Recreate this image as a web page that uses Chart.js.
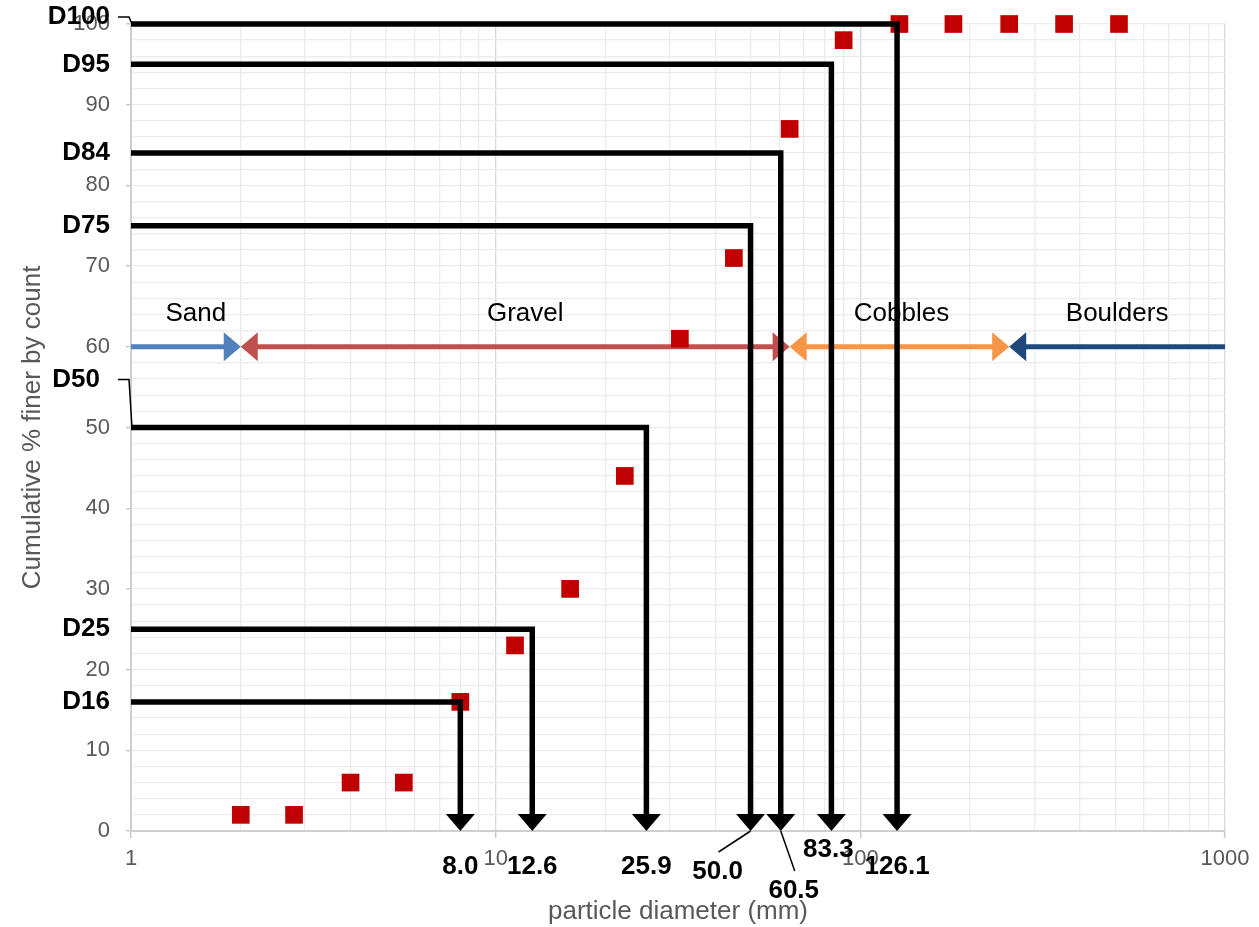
<!DOCTYPE html>
<html>
<head>
<meta charset="utf-8">
<script src="https://cdn.jsdelivr.net/npm/chart.js@4"></script>
<style>
  html, body { margin: 0; padding: 0; background: #ffffff; }
  #wrap { width: 1259px; height: 927px; position: relative; }
</style>
</head>
<body>
<div id="wrap"><canvas id="c" width="1259" height="927"></canvas></div>
<script>
// ---------------- data ----------------
const sieveSizes   = [2, 2.8, 4, 5.6, 8, 11.3, 16, 22.6, 32, 45, 64, 90, 128, 180, 256, 362, 512];
const percentFiner = [2, 2, 6, 6, 16, 23, 30, 44, 61, 71, 87, 98, 100, 100, 100, 100, 100];

const dNames    = ['D16', 'D25', 'D50', 'D75', 'D84', 'D95', 'D100'];
const dPercents = [16, 25, 50, 75, 84, 95, 100];
const dSizes    = [8.0, 12.6, 25.9, 50.0, 60.5, 83.3, 126.1];

const classNames     = ['Sand', 'Gravel', 'Cobbles', 'Boulders'];
const classFrom      = [1, 2, 64, 256];
const classTo        = [2, 64, 256, 1000];
const classLevel     = 60;
const classArrowFrom = [false, true, true, true];
const classArrowTo   = [true, true, true, false];
const classColors    = ['#4F81BD', '#C0504D', '#F79646', '#1F497D'];

const xMajorTicks  = [1, 10, 100, 1000];
const xTickLabels  = ['1', '10', '100', '1000'];
const yMin = 0, yMax = 100, yMinorStep = 2, yMajorStep = 10;

// ---------------- style / layout ----------------
const FONT = "'Liberation Sans', Arial, Helvetica, sans-serif";
const GRAY_TEXT = '#595959';
const ARROW_LEN = 17, ARROW_HALF = 14.5, SHAFT_CUT = 13;

// label nudges (layout only)
const dLabelNudge = { D50: { dy: -48, gap: 31, leader: true }, D100: { dy: -7, gap: 21, leader: true } };
const valueLabelNudge = {
  D75: { dx: -33, dy: 5, leader: true },
  D84: { dx: 13, dy: 24, leader: true },
  D95: { dx: -3, dy: -17 }
};
const classLabelNudge = { Sand: 10, Gravel: 10, Cobbles: 2, Boulders: 0 };

// ---------------- datasets ----------------
const datasets = [];
dNames.forEach((name, i) => {
  datasets.push({
    label: name,
    data: [
      { x: xMajorTicks[0], y: dPercents[i] },
      { x: dSizes[i], y: dPercents[i] },
      { x: dSizes[i], y: yMin }
    ],
    showLine: true,
    borderColor: '#000000',
    backgroundColor: '#000000',
    borderWidth: 5.5,
    borderJoinStyle: 'miter',
    borderCapStyle: 'butt',
    pointRadius: 0,
    pointHoverRadius: 0,
    clip: false,
    order: 1,
    arrows: { start: false, end: true }
  });
});
datasets.push({
  label: 'Cumulative % finer by count',
  data: sieveSizes.map((s, i) => ({ x: s, y: percentFiner[i] })),
  showLine: false,
  pointStyle: 'rect',
  pointRadius: 12.5,
  pointHoverRadius: 12.5,
  backgroundColor: '#C00000',
  borderColor: '#C00000',
  borderWidth: 0,
  clip: false,
  order: 2
});
classNames.forEach((name, i) => {
  datasets.push({
    label: name,
    data: [{ x: classFrom[i], y: classLevel }, { x: classTo[i], y: classLevel }],
    showLine: true,
    borderColor: classColors[i],
    backgroundColor: classColors[i],
    borderWidth: 5,
    borderCapStyle: 'butt',
    pointRadius: 0,
    pointHoverRadius: 0,
    clip: false,
    order: 3,
    arrows: { start: classArrowFrom[i], end: classArrowTo[i] }
  });
});

// x grid positions (1..9 x 10^k)
function logGridTicks() {
  const t = [];
  for (let k = 0; k < 3; k++) for (let m = 1; m < 10; m++) t.push({ value: m * Math.pow(10, k) });
  t.push({ value: 1000 });
  return t;
}

// ---------------- plugins ----------------
function shortenPoint(p, prev, cut) {
  const dx = p.x - prev.x, dy = p.y - prev.y, L = Math.hypot(dx, dy);
  if (!L) return;
  p.x -= dx / L * cut;
  p.y -= dy / L * cut;
}
function drawTriangle(ctx, tip, from, color) {
  const dx = tip.x - from.x, dy = tip.y - from.y, L = Math.hypot(dx, dy);
  const ux = dx / L, uy = dy / L;
  const bx = tip.x - ux * ARROW_LEN, by = tip.y - uy * ARROW_LEN;
  ctx.beginPath();
  ctx.moveTo(tip.x, tip.y);
  ctx.lineTo(bx - uy * ARROW_HALF, by + ux * ARROW_HALF);
  ctx.lineTo(bx + uy * ARROW_HALF, by - ux * ARROW_HALF);
  ctx.closePath();
  ctx.fillStyle = color;
  ctx.fill();
}

const arrowPlugin = {
  id: 'arrowHeads',
  afterDatasetsUpdate(chart) {
    chart.data.datasets.forEach((ds, i) => {
      if (!ds.arrows) return;
      const pts = chart.getDatasetMeta(i).data;
      const n = pts.length;
      if (ds.arrows.end) shortenPoint(pts[n - 1], pts[n - 2], SHAFT_CUT);
      if (ds.arrows.start) shortenPoint(pts[0], pts[1], SHAFT_CUT);
    });
  },
  afterDatasetDraw(chart, args) {
    const ds = chart.data.datasets[args.index];
    if (!ds.arrows) return;
    const xs = chart.scales.x, ys = chart.scales.y;
    const px = d => ({ x: xs.getPixelForValue(d.x), y: ys.getPixelForValue(d.y) });
    const ctx = chart.ctx;
    const n = ds.data.length;
    ctx.save();
    if (ds.arrows.end) drawTriangle(ctx, px(ds.data[n - 1]), px(ds.data[n - 2]), ds.borderColor);
    if (ds.arrows.start) drawTriangle(ctx, px(ds.data[0]), px(ds.data[1]), ds.borderColor);
    ctx.restore();
  }
};

const labelPlugin = {
  id: 'annotLabels',
  afterDraw(chart) {
    const ctx = chart.ctx;
    const xs = chart.scales.x, ys = chart.scales.y;
    const area = chart.chartArea;
    ctx.save();

    // D-labels at the left
    ctx.font = 'bold 26px ' + FONT;
    ctx.fillStyle = '#000000';
    ctx.textAlign = 'right';
    ctx.textBaseline = 'middle';
    dNames.forEach((name, i) => {
      const nd = dLabelNudge[name] || { dy: 0, gap: 21, leader: false };
      const y = ys.getPixelForValue(dPercents[i]);
      const ly = y + nd.dy;
      const rx = area.left - nd.gap;
      ctx.fillText(name, rx, ly);
      if (nd.leader) {
        ctx.beginPath();
        ctx.lineWidth = 1.5;
        ctx.strokeStyle = '#000000';
        ctx.moveTo(area.left - 13, ly);
        ctx.lineTo(area.left - 2, ly);
        ctx.lineTo(area.left + 1, y);
        ctx.stroke();
      }
    });

    // value labels at the bottom
    ctx.textAlign = 'center';
    dNames.forEach((name, i) => {
      const nd = valueLabelNudge[name] || { dx: 0, dy: 0, leader: false };
      const tx = xs.getPixelForValue(dSizes[i]);
      const ty = ys.getPixelForValue(yMin);
      const lx = tx + nd.dx, ly = ty + 36 + nd.dy;
      ctx.fillText(dSizes[i].toFixed(1), lx, ly);
      if (nd.leader) {
        ctx.beginPath();
        ctx.lineWidth = 1.5;
        ctx.strokeStyle = '#000000';
        ctx.moveTo(lx + 1, ly - 20);
        ctx.lineTo(tx, ty);
        ctx.stroke();
      }
    });

    // size-class labels
    ctx.font = '26px ' + FONT;
    classNames.forEach((name, i) => {
      const cx = xs.getPixelForValue(Math.sqrt(classFrom[i] * classTo[i])) + (classLabelNudge[name] || 0);
      const cy = ys.getPixelForValue(classLevel) - 33;
      ctx.fillText(name, cx, cy);
    });
    ctx.restore();
  }
};

// ---------------- chart ----------------
Chart.defaults.font.family = FONT;
new Chart(document.getElementById('c'), {
  type: 'scatter',
  data: { datasets },
  options: {
    responsive: false,
    devicePixelRatio: 1,
    animation: false,
    events: [],
    layout: { autoPadding: false, padding: { top: 24, right: 34, bottom: 0, left: 0 } },
    plugins: { legend: { display: false }, tooltip: { enabled: false } },
    scales: {
      x: {
        type: 'logarithmic',
        min: xMajorTicks[0],
        max: xMajorTicks[xMajorTicks.length - 1],
        afterBuildTicks: s => { s.ticks = logGridTicks(); },
        afterFit: s => { s.height = 96; s.paddingLeft = 0; s.paddingRight = 0; },
        ticks: {
          autoSkip: false,
          maxRotation: 0,
          padding: 8,
          color: GRAY_TEXT,
          font: { size: 22, family: FONT },
          callback: v => { const k = xMajorTicks.indexOf(v); return k >= 0 ? xTickLabels[k] : ''; }
        },
        grid: {
          color: c => (c.tick && xMajorTicks.includes(c.tick.value) ? '#d9d9d9' : '#ececec'),
          lineWidth: 1.3,
          drawTicks: true,
          tickLength: 7,
          tickWidth: 1.5,
          tickColor: c => (c.tick && xMajorTicks.includes(c.tick.value) ? '#c8c8c8' : 'rgba(0,0,0,0)')
        },
        border: { color: '#cfcfcf', width: 2 },
        title: {
          display: true,
          text: 'particle diameter (mm)',
          color: GRAY_TEXT,
          font: { size: 26, family: FONT },
          padding: { top: 0, bottom: 0 }
        }
      },
      y: {
        type: 'linear',
        min: yMin,
        max: yMax,
        afterFit: s => { s.width = 131; s.paddingTop = 0; s.paddingBottom = 0; },
        ticks: {
          stepSize: yMinorStep,
          autoSkip: false,
          padding: 16,
          color: GRAY_TEXT,
          font: { size: 22, family: FONT },
          callback: v => (v % yMajorStep === 0 ? String(v) : '')
        },
        grid: {
          color: '#ececec',
          lineWidth: 1.3,
          drawTicks: true,
          tickLength: 5,
          tickWidth: 1.5,
          tickColor: c => (c.tick && c.tick.value % yMajorStep === 0 ? '#c8c8c8' : 'rgba(0,0,0,0)')
        },
        border: { color: '#cfcfcf', width: 2 },
        title: {
          display: true,
          text: 'Cumulative % finer by count',
          color: GRAY_TEXT,
          font: { size: 26, family: FONT },
          padding: { top: 17, bottom: 0 }
        }
      }
    }
  },
  plugins: [arrowPlugin, labelPlugin]
});
</script>
</body>
</html>
